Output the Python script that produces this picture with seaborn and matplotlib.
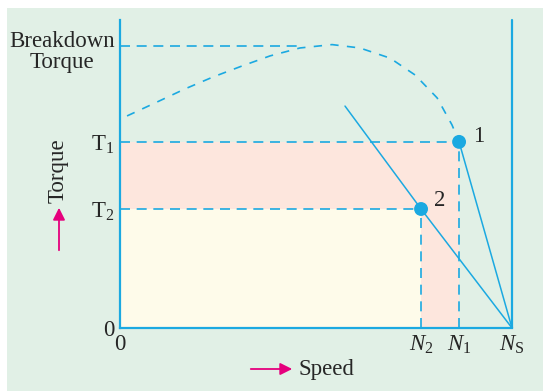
import matplotlib
matplotlib.use("Agg")
import matplotlib.pyplot as plt
from matplotlib.patches import Rectangle
import seaborn as sns
import pandas as pd

# values (speed as fraction of Ns, torque as fraction of breakdown)
N2, N1, NS = 0.768, 0.865, 1.0
T2, T1, TB = 0.422, 0.660, 1.0

curve_speed = [0.018, 0.094, 0.166, 0.237, 0.311, 0.383, 0.459, 0.541,
               0.612, 0.689, 0.753, 0.809, 0.847, 0.865]
curve_torque = [0.752, 0.801, 0.848, 0.890, 0.929, 0.965, 0.993, 1.005,
                0.993, 0.957, 0.897, 0.816, 0.720, 0.660]

line2_speed = [0.574, N2, NS]
line2_torque = [0.787, T2, 0.0]
line1_speed = [N1, NS]
line1_torque = [T1, 0.0]

x_ticks = [0, N2, N1, NS]
x_labels = ["0", "$N_2$", "$N_1$", "$N_\\mathrm{S}$"]
y_ticks = [0, T2, T1]
y_labels = ["0", "T$_2$", "T$_1$"]

blue = "#1ba9e1"
magenta = "#e5007d"
fs = 16.5

sns.set_style("white")
plt.rcParams["font.family"] = ["Liberation Serif", "DejaVu Serif"]
plt.rcParams["mathtext.fontset"] = "custom"
plt.rcParams["mathtext.rm"] = "Liberation Serif"
plt.rcParams["mathtext.it"] = "Liberation Serif:italic"

fig = plt.figure(figsize=(5.43, 3.91), dpi=100)
fig.patches.append(Rectangle((7 / 543, 0), 1, 383 / 391, transform=fig.transFigure,
                             facecolor="#e1f0e6", edgecolor="none", zorder=-1))
ax = fig.add_axes([120 / 543, 63 / 391, 392 / 543, 308 / 391])
ax.set_facecolor("none")
ax.set_xlim(0, 1.0)
ax.set_ylim(0, 308 / 282)

# shaded regions
ax.fill_between([0, N1], 0, T1, color="#fde6dd", lw=0, zorder=0)
ax.fill_between([0, N2], 0, T2, color="#fefbea", lw=0, zorder=0)

# dashed guides
dash = (0, (6, 4))
ax.plot([0, 0.46], [TB, TB], color=blue, lw=1.2, ls=dash)
ax.plot([0, N1], [T1, T1], color=blue, lw=1.2, ls=dash)
ax.plot([0, N2], [T2, T2], color=blue, lw=1.2, ls=dash)
ax.plot([N1, N1], [0, T1], color=blue, lw=1.2, ls=dash)
ax.plot([N2, N2], [0, T2], color=blue, lw=1.2, ls=dash)

# torque-speed curve (dashed)
curve = pd.DataFrame({"speed": curve_speed, "torque": curve_torque})
sns.lineplot(data=curve, x="speed", y="torque", ax=ax, color=blue, lw=1.2,
             linestyle=(0, (5, 5)), sort=False)

# operating lines
sns.lineplot(x=line2_speed, y=line2_torque, ax=ax, color=blue, lw=1.1, sort=False)
sns.lineplot(x=line1_speed, y=line1_torque, ax=ax, color=blue, lw=1.1, sort=False)
ax.axvline(NS, color=blue, lw=1.6, clip_on=False)

# operating points
sns.scatterplot(x=[N1, N2], y=[T1, T2], ax=ax, color=blue, s=100, edgecolor="none",
                zorder=5, clip_on=False)
ax.text(N1 + 0.035, T1 + 0.02, "1", fontsize=fs, va="center", ha="left")
ax.text(N2 + 0.032, T2 + 0.03, "2", fontsize=fs, va="center", ha="left")

# axes styling
for side in ["top", "right"]:
    ax.spines[side].set_visible(False)
for side in ["left", "bottom"]:
    ax.spines[side].set_color(blue)
    ax.spines[side].set_linewidth(1.6)
ax.set_xticks(x_ticks, x_labels, fontsize=fs)
ax.set_yticks(y_ticks, y_labels, fontsize=fs)
ax.tick_params(length=0, pad=4)
ax.get_xticklabels()[0].set_x(0.015)
ax.set_xlabel("")
ax.set_ylabel("")
ax.grid(False)

fig.text(62 / 543, 1 - 52 / 391, "Breakdown\nTorque", fontsize=fs, ha="center",
         va="center", linespacing=1.05)

# axis captions with arrows
fig.text(58 / 543, 1 - 171 / 391, "Torque", rotation=90, fontsize=fs, ha="center", va="center")
ax.annotate("", xy=(59 / 543, 1 - 205 / 391), xytext=(59 / 543, 1 - 253 / 391),
            xycoords="figure fraction",
            arrowprops=dict(arrowstyle="-|>", color=magenta, lw=1.3, mutation_scale=18))
fig.text(298 / 543, 1 - 369 / 391, "Speed", fontsize=fs, ha="left", va="center")
ax.annotate("", xy=(295 / 543, 1 - 369 / 391), xytext=(248 / 543, 1 - 369 / 391),
            xycoords="figure fraction",
            arrowprops=dict(arrowstyle="-|>", color=magenta, lw=1.3, mutation_scale=18))

fig.savefig("out.png", dpi=100)
